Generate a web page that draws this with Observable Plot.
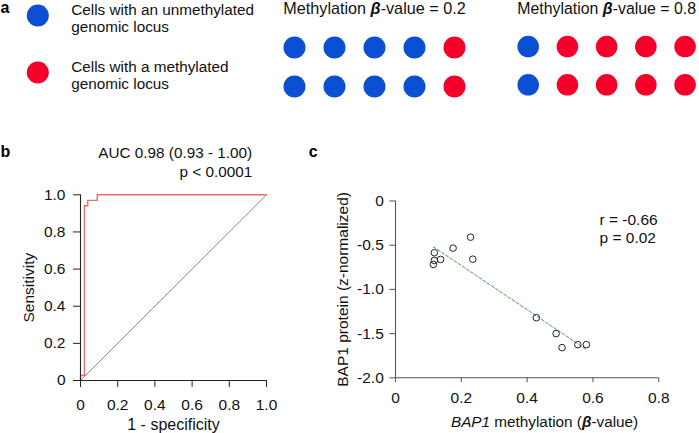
<!DOCTYPE html>
<html>
<head>
<meta charset="utf-8">
<script src="https://cdn.jsdelivr.net/npm/d3@7"></script>
<script src="https://cdn.jsdelivr.net/npm/@observablehq/plot@0.6"></script>
<style>
  html, body { margin: 0; padding: 0; background: #fff; }
  #fig { position: relative; width: 699px; height: 433px; overflow: hidden; background: #fff; }
  #fig > div { position: absolute; }
</style>
</head>
<body>
<div id="fig"></div>
<script>
// ---------- data ----------
// Panel a
const legendStates = ["unmethylated", "methylated"];
const legendLabels = ["Cells with an unmethylated\ngenomic locus", "Cells with a methylated\ngenomic locus"];
const stateColors = ["#0b4fd2", "#f4002a"];
const groupTitles = ["Methylation β-value = 0.2", "Methylation β-value = 0.8"];
const groupCells = [
  [["unmethylated", "unmethylated", "unmethylated", "unmethylated", "methylated"],
   ["unmethylated", "unmethylated", "unmethylated", "unmethylated", "methylated"]],
  [["unmethylated", "methylated", "methylated", "methylated", "methylated"],
   ["unmethylated", "methylated", "methylated", "methylated", "methylated"]]
];
const gridColumns = [0, 1, 2, 3, 4];
const gridRows = [0, 1];

// Panel b (ROC)
const rocFpr = [0, 0, 0.021, 0.021, 0.039, 0.039, 0.090, 0.090, 1];
const rocTpr = [0, 0.027, 0.027, 0.941, 0.941, 0.970, 0.970, 1, 1];
const diagonal = [0, 1];
const rocTicks = [0, 0.2, 0.4, 0.6, 0.8, 1.0];
const rocAuc = "AUC 0.98 (0.93 - 1.00)";
const rocP = "p < 0.0001";

// Panel c (scatter)
const bap1Methylation = [0.228, 0.175, 0.118, 0.118, 0.137, 0.115, 0.235, 0.428, 0.488, 0.506, 0.554, 0.580];
const bap1Protein = [-0.409, -0.533, -0.585, -0.672, -0.661, -0.718, -0.658, -1.32, -1.50, -1.659, -1.625, -1.625];
const scatterXTicks = [0, 0.2, 0.4, 0.6, 0.8];
const scatterYTicks = [0, -0.5, -1.0, -1.5, -2.0];
const corrR = "r = -0.66";
const corrP = "p = 0.02";
const scatterXTitle = "BAP1 methylation (β-value)";
const scatterYTitle = "BAP1 protein (z-normalized)";

// ---------- helpers ----------
const FONT = '"Liberation Sans", Arial, Helvetica, sans-serif';
const fig = document.getElementById("fig");
const fmt = d => d === 0 ? "0" : d.toFixed(1);
function place(node, left, top) {
  const div = document.createElement("div");
  div.style.left = left + "px";
  div.style.top = top + "px";
  div.appendChild(node);
  fig.appendChild(div);
  return node;
}
function richText(svg, full, styles) {
  const keys = Object.keys(styles);
  const re = new RegExp("(" + keys.map(k => k.replace(/[.*+?^${}()|[\]\\]/g, "\\$&")).join("|") + ")");
  svg.querySelectorAll("text").forEach(t => {
    if (t.textContent !== full) return;
    t.textContent = "";
    for (const part of full.split(re)) {
      if (!part) continue;
      const ts = document.createElementNS("http://www.w3.org/2000/svg", "tspan");
      ts.textContent = part;
      const s = styles[part];
      if (s) {
        if (s.italic) ts.setAttribute("font-style", "italic");
        if (s.bold) ts.setAttribute("font-weight", "bold");
      }
      t.appendChild(ts);
    }
  });
}
const baseStyle = {fontFamily: FONT, fontSize: "15px", color: "#111", background: "transparent", overflow: "visible"};
const colorScale = {domain: legendStates, range: stateColors};

// ---------- panel a: legend ----------
place(Plot.plot({
  width: 260, height: 100,
  marginLeft: 0, marginRight: 185.4, marginTop: 15, marginBottom: 27.3,
  style: baseStyle,
  y: {type: "point", domain: legendStates, padding: 0, axis: null},
  color: colorScale,
  marks: [
    Plot.dot(legendStates, {y: d => d, r: 11, fill: d => d, stroke: null}),
    Plot.text(legendStates, {y: d => d, text: (d, i) => legendLabels[i], dx: 33.4, dy: 2.3,
      textAnchor: "start", lineAnchor: "middle", lineHeight: 1.157, fontSize: 15.3, fill: "#111"}),
    Plot.text(["a"], {text: d => d, frameAnchor: "top-left", dy: -2.5, lineAnchor: "bottom",
      textAnchor: "start", fontWeight: "bold", fontSize: 16, fill: "#000"})
  ]
}), 0, 0);

// ---------- panel a: two groups ----------
const groupLefts = [279.3, 512.7];
groupTitles.forEach((title, g) => {
  const cells = [];
  gridRows.forEach(r => gridColumns.forEach(c => cells.push({row: r, col: c, state: groupCells[g][r][c]})));
  const svg = Plot.plot({
    width: 190, height: 100,
    marginLeft: 15, marginRight: 15, marginTop: 46.7, marginBottom: 14,
    style: baseStyle,
    x: {type: "point", domain: gridColumns, padding: 0, axis: null},
    y: {type: "point", domain: gridRows, padding: 0, axis: null},
    color: colorScale,
    marks: [
      Plot.dot(cells, {x: "col", y: "row", r: 11, fill: "state", stroke: null}),
      Plot.text([title], {text: d => d, frameAnchor: "top", dy: -33.2, lineAnchor: "bottom",
        textAnchor: "middle", fontSize: 16.2, fill: "#111"})
    ]
  });
  richText(svg, title, {"β": {italic: true, bold: true}});
  place(svg, groupLefts[g], 0);
});

// ---------- panel b: ROC ----------
const roc = rocFpr.map((f, i) => ({fpr: f, tpr: rocTpr[i]}));
place(Plot.plot({
  width: 290, height: 303,
  marginLeft: 80, marginRight: 24, marginTop: 64.3, marginBottom: 53,
  style: baseStyle,
  x: {domain: [0, 1]},
  y: {domain: [0, 1]},
  marks: [
    Plot.line(diagonal, {x: d => d, y: d => d, stroke: "#555", strokeWidth: 0.7}),
    Plot.line(roc, {x: "fpr", y: "tpr", stroke: "#ef6a6a", strokeWidth: 1.4}),
    Plot.ruleX([0], {y1: 0, y2: 1, stroke: "#222", strokeWidth: 1.1}),
    Plot.ruleY([0], {x1: 0, x2: 1, stroke: "#222", strokeWidth: 1.1}),
    Plot.axisX({ticks: rocTicks, tickSize: 7, tickPadding: 11, tickFormat: fmt, label: null,
      stroke: "#222", fill: "#111", fontSize: 15.5}),
    Plot.axisY({ticks: rocTicks, tickSize: 7, tickPadding: 8, tickFormat: fmt, label: null,
      stroke: "#222", fill: "#111", fontSize: 15.5}),
    Plot.text(["1 - specificity"], {text: d => d, frameAnchor: "bottom", dy: 44, lineAnchor: "middle", fontSize: 16, fill: "#111"}),
    Plot.text(["Sensitivity"], {text: d => d, frameAnchor: "left", dx: -51.7, rotate: -90, lineAnchor: "middle", textAnchor: "middle", fontSize: 15.5, fill: "#111"}),
    Plot.text([rocAuc], {text: d => d, frameAnchor: "top-right", dx: -14.3, dy: -41.6, textAnchor: "end", lineAnchor: "middle", fontSize: 15.3, fill: "#111"}),
    Plot.text([rocP], {text: d => d, frameAnchor: "top-right", dx: -14.3, dy: -22.6, textAnchor: "end", lineAnchor: "middle", fontSize: 15.3, fill: "#111"}),
    Plot.text(["b"], {text: d => d, frameAnchor: "top-left", dx: -80, dy: -37.6, textAnchor: "start", lineAnchor: "bottom", fontWeight: "bold", fontSize: 16, fill: "#000"})
  ]
}), 0, 130);

// ---------- panel c: scatter ----------
const scatter = bap1Methylation.map((x, i) => ({x, y: bap1Protein[i]}));
const svgC = Plot.plot({
  width: 409, height: 303,
  marginLeft: 105, marginRight: 40.7, marginTop: 70.5, marginBottom: 55.7,
  style: baseStyle,
  x: {domain: [0, 0.8]},
  y: {domain: [-2, 0]},
  marks: [
    Plot.linearRegressionY(scatter, {x: "x", y: "y", ci: 0, stroke: "#4a9d4a", strokeWidth: 1, strokeDasharray: "3,2"}),
    Plot.dot(scatter, {x: "x", y: "y", r: 3.3, stroke: "#222", strokeWidth: 1, fill: "none"}),
    Plot.ruleX([0], {y1: -2, y2: 0, stroke: "#555", strokeWidth: 1.1}),
    Plot.ruleY([-2], {x1: 0, x2: 0.8, stroke: "#555", strokeWidth: 1.1}),
    Plot.axisX({ticks: scatterXTicks, tickSize: 5, tickPadding: 9.4, tickFormat: fmt, label: null,
      stroke: "#555", fill: "#111", fontSize: 15.5}),
    Plot.axisY({ticks: scatterYTicks, tickSize: 5.7, tickPadding: 6, tickFormat: fmt, label: null,
      stroke: "#555", fill: "#111", fontSize: 15.5}),
    Plot.text([scatterXTitle], {text: d => d, frameAnchor: "bottom", dx: 17.4, dy: 44, lineAnchor: "middle", fontSize: 15.3, fill: "#111"}),
    Plot.text([scatterYTitle], {text: d => d, frameAnchor: "left", dx: -52, rotate: -90, lineAnchor: "middle", textAnchor: "middle", fontSize: 15.5, fill: "#111"}),
    Plot.text([corrR], {text: d => d, frameAnchor: "top-left", dx: 204, dy: 19, textAnchor: "start", lineAnchor: "middle", fontSize: 15.5, fill: "#111"}),
    Plot.text([corrP], {text: d => d, frameAnchor: "top-left", dx: 204, dy: 37.5, textAnchor: "start", lineAnchor: "middle", fontSize: 15.5, fill: "#111"}),
    Plot.text(["c"], {text: d => d, frameAnchor: "top-left", dx: -86.7, dy: -43.8, textAnchor: "start", lineAnchor: "bottom", fontWeight: "bold", fontSize: 16, fill: "#000"})
  ]
});
richText(svgC, scatterXTitle, {"BAP1": {italic: true}, "β": {italic: true, bold: true}});
place(svgC, 290, 130);
</script>
</body>
</html>
